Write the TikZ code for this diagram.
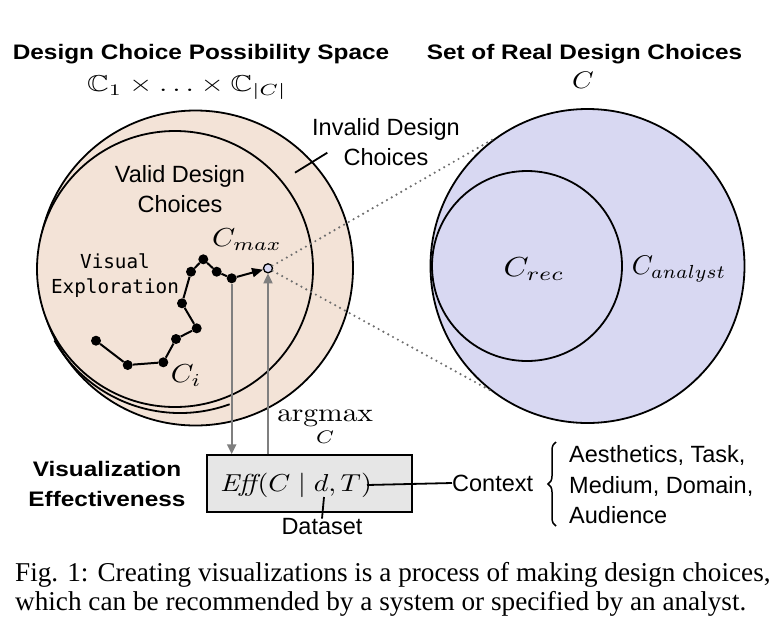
\documentclass[tikz,border=0pt]{standalone}
\usepackage[no-math]{fontspec}
\usepackage{amsmath}
\usepackage{amssymb}
\usepackage{graphicx}
\setsansfont{Liberation Sans}
\newfontfamily\titlefont{Liberation Sans Bold}[FakeStretch=1.16]
\newfontfamily\capfont{Liberation Serif}
\newfontfamily\walkfont{DejaVu Sans Mono}
\usetikzlibrary{arrows.meta,decorations.pathreplacing}
\definecolor{peach}{HTML}{F3E3D7}
\definecolor{lav}{HTML}{D8D8F2}
\definecolor{boxgray}{HTML}{E6E6E6}
\definecolor{arrgray}{HTML}{7F7F7F}
\definecolor{dotgray}{HTML}{6E6E6E}
% #1 = x scale, #2 = y scale (relative to 10pt), #3 = formula
\newcommand{\mathlab}[3]{\scalebox{#1}[#2]{$#3$}}
\begin{document}
\begin{tikzpicture}[x=1pt,y=-1pt,
  ring/.style={circle,draw=black,line width=1.8pt,inner sep=0pt},
  titletxt/.style={font={\titlefont\fontsize{21}{30}\selectfont},align=center,inner sep=0pt},
  lab/.style={font={\sffamily\fontsize{23.5}{30}\selectfont},align=center,inner sep=0pt},
  mlab/.style={inner sep=0pt,font=\fontsize{10}{12}\selectfont},
  walkdot/.style={circle,fill=black,inner sep=0pt,minimum size=10pt},
  walkline/.style={line width=2pt},
  garrow/.style={draw=arrgray,line width=2.2pt,-{Triangle[length=10pt,width=9pt]}},
  dotline/.style={draw=dotgray,line width=2.4pt,dash pattern=on 0pt off 5.5pt,line cap=round},
  thinline/.style={line width=1.8pt},
  captxt/.style={font={\capfont\fontsize{27.2}{30}\selectfont},anchor=base west,inner sep=0pt}]
\useasboundingbox (0,0) rectangle (782,638);
\fill[white] (0,0) rectangle (782,638);

% circles
\node[ring,fill=peach,minimum size=315pt] (space) at (195.5,268) {};
\draw[line width=1.8pt] (180,268) ++(150:145) arc[start angle=150,end angle=70,radius=145];
\node[ring,fill=peach,minimum size=276pt] (valid) at (175,269) {};
\node[ring,fill=lav,minimum size=314pt] (analyst) at (587.5,266) {};
\node[ring,fill=lav,minimum size=190pt] (rec) at (527,266) {};

% titles
\node[titletxt,anchor=base] (t1) at (201,59.3) {Design Choice Possibility Space};
\node[titletxt,anchor=base] (t2) at (584.5,59.3) {Set of Real Design Choices};
\node[mlab,anchor=base] (prod) at (187,91.7) {\mathlab{3.0}{2.3}{\mathbb{C}_1 \times \ldots \times \mathbb{C}_{|C|}}};
\node[mlab,anchor=base] (cset) at (583,88.3) {\mathlab{2.76}{2.4}{C}};

% region labels
\node[lab] (validlab) at (180,189) {Valid Design\\Choices};
\node[lab] (invalidlab) at (386,142) {Invalid Design\\Choices};
\coordinate (tickA) at (295,172.7);
\coordinate (tickB) at (327.3,152.7);
\draw[thinline] (tickA) -- (tickB);
\node[font={\walkfont\fontsize{19.3}{25}\selectfont},align=center,inner sep=0pt] (vexp) at (115,276) {Visual\\Exploration};

\node[mlab] (crec) at (534,269) {\mathlab{3.2}{2.75}{C_{rec}}};
\node[mlab] (can) at (679,269) {\mathlab{2.7}{2.7}{C_{analyst}}};

% walk
\node[walkdot] (p1) at (96,340.7) {};
\node[walkdot] (p2) at (127.7,365) {};
\node[walkdot] (p3) at (163.3,362.3) {};
\node[walkdot] (p4) at (176,339) {};
\node[walkdot] (p5) at (196.7,328.3) {};
\node[walkdot] (p6) at (182,303.3) {};
\node[walkdot] (p7) at (191,271.7) {};
\node[walkdot] (p8) at (203.3,259.3) {};
\node[walkdot] (p9) at (216.7,271.7) {};
\node[walkdot] (p10) at (231.7,278.3) {};
\node[circle,draw=black,line width=1.3pt,fill=lav,inner sep=0pt,minimum size=9pt] (cmax) at (268,268.3) {};
\draw[walkline] (p1) -- (p2) -- (p3) -- (p4) -- (p5) -- (p6) -- (p7) -- (p8) -- (p9) -- (p10);
\draw[walkline,-{Triangle[length=11pt,width=9pt]}] (p10) -- (cmax);
\node[mlab] (cmaxlab) at (247,240) {\mathlab{2.95}{2.6}{C_{max}}};
\node[mlab] (cilab) at (186,376) {\mathlab{2.9}{2.6}{C_i}};

% dotted projection
\draw[dotline] (cmax) -- (analyst.126.9);
\draw[dotline] (cmax) -- (analyst.232.6);

% effectiveness box
\node[draw=black,line width=1.5pt,fill=boxgray,minimum width=205pt,minimum height=57pt,inner sep=0pt] (box) at (309.5,483.5) {};
\node[mlab] (eff) at (296,485) {\mathlab{2.8}{2.45}{\mathit{Eff}\!(C \mid d, T)}};
\node[mlab] (argmax) at (325,428) {\mathlab{2.95}{2.6}{\displaystyle\operatorname*{argmax}_{C}}};
\draw[garrow] (p10.south) -- (p10.south |- box.north);
\draw[garrow] (cmax.south |- box.north) -- (cmax.south);

\node[font={\titlefont\fontsize{21}{30}\selectfont},align=center,inner sep=0pt] (viseff) at (107,484) {Visualization\\Effectiveness};

% context
\node[lab,anchor=west] (context) at (452,483) {Context};
\coordinate (ctxstart) at (367,485);
\draw[thinline] (ctxstart) -- (context.west);
\coordinate (braceB) at (556,526);
\coordinate (braceT) at (556,442);
\draw[line width=1.5pt,decorate,decoration={brace,amplitude=8pt}] (braceB) -- (braceT);
\node[font={\sffamily\fontsize{23.5}{30.5}\selectfont},align=left,inner sep=0pt,anchor=west] (ctxlist) at (569,485) {Aesthetics, Task,\\Medium, Domain,\\Audience};

% dataset
\node[lab] (dataset) at (322,527) {Dataset};
\coordinate (dtop) at (324,497);
\draw[thinline] (dtop) -- (dataset.north);

% caption
\node[captxt] (cap1) at (15,581.7) {Fig. 1: Creating visualizations is a process of making design choices,};
\node[captxt] (cap2) at (15,610) {which can be recommended by a system or specified by an analyst.};
\end{tikzpicture}
\end{document}
